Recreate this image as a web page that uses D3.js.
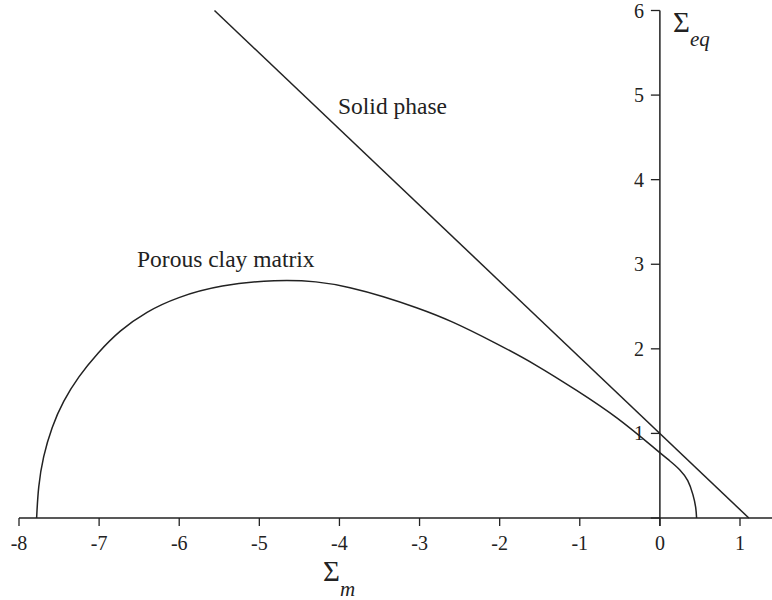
<!DOCTYPE html>
<html>
<head>
<meta charset="utf-8">
<script src="https://cdn.jsdelivr.net/npm/d3@7"></script>
<style>
  body { margin: 0; background: #fff; }
</style>
</head>
<body>
<script>
// tick values
const xTicks = [-8, -7, -6, -5, -4, -3, -2, -1, 0, 1]
const yTicks = [1, 2, 3, 4, 5, 6]

// porous clay matrix yield surface (Sigma_m, Sigma_eq)
const matrixM  = [-7.78, -7.76, -7.70, -7.59, -7.45, -7.26, -7.02, -6.74, -6.41, -6.03, -5.49, -4.78, -4.28, -3.87, -3.45, -3.04, -2.62, -2.04, -1.54, -1.04, -0.54, 0, 0.125, 0.25, 0.355, 0.417, 0.45, 0.458]
const matrixEq = [0, 0.37, 0.725, 1.08, 1.38, 1.67, 1.95, 2.22, 2.44, 2.61, 2.755, 2.82, 2.80, 2.73, 2.62, 2.49, 2.34, 2.065, 1.81, 1.51, 1.2, 0.77, 0.675, 0.575, 0.45, 0.27, 0.13, 0]

// solid phase: straight line
const solidM  = [-5.56, 1.11]
const solidEq = [6, 0]

const width = 772, height = 600
const font = "'Liberation Serif', 'Times New Roman', Times, serif"
const ink = "#222"

const svg = d3.select("body").append("svg")
    .attr("width", width)
    .attr("height", height)
    .attr("font-family", font)

const x = d3.scaleLinear().domain([-8, 1]).range([19, 740])
const y = d3.scaleLinear().domain([0, 6]).range([518, 10.5])

// x axis line
svg.append("line")
    .attr("x1", x(-8)).attr("x2", 772)
    .attr("y1", y(0)).attr("y2", y(0))
    .attr("stroke", ink).attr("stroke-width", 1.5)

// x ticks (downward)
svg.selectAll(".xt")
    .data(xTicks)
    .enter()
    .append("line")
    .attr("x1", d => x(d)).attr("x2", d => x(d))
    .attr("y1", y(0)).attr("y2", y(0) + 8)
    .attr("stroke", ink).attr("stroke-width", 1.3)

svg.selectAll(".xl")
    .data(xTicks)
    .enter()
    .append("text")
    .attr("x", d => x(d))
    .attr("y", y(0) + 32)
    .attr("text-anchor", "middle")
    .attr("font-size", 20)
    .attr("fill", ink)
    .text(d => d < 0 ? "-" + Math.abs(d) : d)

// y axis line
svg.append("line")
    .attr("x1", x(0)).attr("x2", x(0))
    .attr("y1", y(6)).attr("y2", y(0) + 8)
    .attr("stroke", ink).attr("stroke-width", 1.5)

// y ticks (leftward)
svg.selectAll(".yt")
    .data([0].concat(yTicks))
    .enter()
    .append("line")
    .attr("x1", x(0) - 9).attr("x2", x(0))
    .attr("y1", d => y(d)).attr("y2", d => y(d))
    .attr("stroke", ink).attr("stroke-width", 1.3)

svg.selectAll(".yl")
    .data(yTicks)
    .enter()
    .append("text")
    .attr("x", x(0) - 16)
    .attr("y", d => y(d) + 7)
    .attr("text-anchor", "end")
    .attr("font-size", 20)
    .attr("fill", ink)
    .text(d => d)

// curves
const line = d3.line()
    .x(d => x(d[0]))
    .y(d => y(d[1]))

svg.append("path")
    .datum(solidM.map((m, i) => [m, solidEq[i]]))
    .attr("d", line)
    .attr("fill", "none")
    .attr("stroke", ink).attr("stroke-width", 1.5)

svg.append("path")
    .datum(matrixM.map((m, i) => [m, matrixEq[i]]))
    .attr("d", line.curve(d3.curveBasis))
    .attr("fill", "none")
    .attr("stroke", ink).attr("stroke-width", 1.5)

// curve labels
svg.append("text")
    .attr("x", 338).attr("y", 114)
    .attr("font-size", 23.5)
    .attr("fill", ink)
    .text("Solid phase")

svg.append("text")
    .attr("x", 137).attr("y", 267)
    .attr("font-size", 23.5)
    .attr("fill", ink)
    .text("Porous clay matrix")

// axis titles
const eq = svg.append("text").attr("x", 673).attr("y", 32).attr("font-size", 29).attr("fill", ink)
eq.append("tspan").text("Σ")
eq.append("tspan").attr("dy", 14).attr("font-size", 21).attr("font-style", "italic").text("eq")

const sm = svg.append("text").attr("x", 323).attr("y", 581).attr("font-size", 29).attr("fill", ink)
sm.append("tspan").text("Σ")
sm.append("tspan").attr("dy", 15).attr("font-size", 21).attr("font-style", "italic").text("m")
</script>
</body>
</html>
